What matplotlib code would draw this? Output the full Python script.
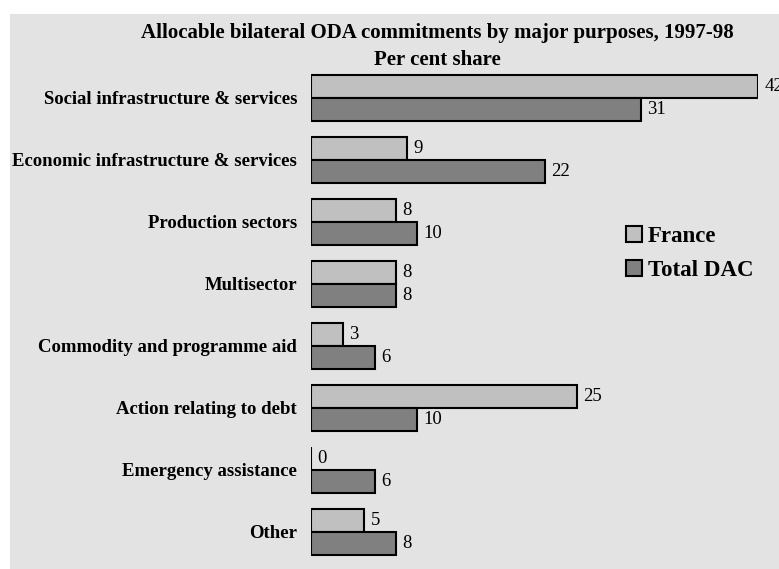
import numpy as np
import matplotlib.pyplot as plt
from matplotlib.patches import Rectangle

categories = ["Social infrastructure & services", "Economic infrastructure & services",
              "Production sectors", "Multisector", "Commodity and programme aid",
              "Action relating to debt", "Emergency assistance", "Other"]
france = [42, 9, 8, 8, 3, 25, 0, 5]
total_dac = [31, 22, 10, 8, 6, 10, 6, 8]

W, H = 779, 569
serif = ["Liberation Serif", "DejaVu Serif"]

fig = plt.figure(figsize=(W / 100, H / 100), dpi=100, facecolor="white")
fig.patches.append(Rectangle((10 / W, 0), 1, 1 - 14 / H, transform=fig.transFigure,
                             facecolor="#e3e3e3", edgecolor="none", zorder=-5))

ax = fig.add_axes([311 / W, 1 - 563 / H, (758 - 311) / W, (563 - 67) / H])
ax.set_facecolor("none")

y = np.arange(len(categories))
h = 0.37
b1 = ax.barh(y - h / 2, france, height=h, color="#c0c0c0", edgecolor="black", linewidth=1.5,
             label="France")
b2 = ax.barh(y + h / 2, total_dac, height=h, color="#808080", edgecolor="black", linewidth=1.5,
             label="Total DAC")

for bars, vals in ((b1, france), (b2, total_dac)):
    for bar, v in zip(bars, vals):
        ax.text(v + 0.6, bar.get_y() + bar.get_height() / 2, str(v), va="center", ha="left",
                fontsize=13.5, family=serif, clip_on=False)

ax.set_xlim(0, 42)
ax.set_ylim(len(categories) - 0.5, -0.5)
ax.set_yticks(y)
ax.set_yticklabels(categories, family=serif, fontweight="bold", fontsize=13.5)
ax.tick_params(axis="y", length=0, pad=10)
ax.set_xticks([])
for s in ax.spines.values():
    s.set_visible(False)

fig.text(437 / W, 1 - 33 / H, "Allocable bilateral ODA commitments by major purposes, 1997-98",
         ha="center", va="center", fontsize=15, fontweight="bold", family=serif)
fig.text(437 / W, 1 - 60 / H, "Per cent share", ha="center", va="center",
         fontsize=15, fontweight="bold", family=serif)

fig.legend(handles=[b1, b2], loc="upper left", bbox_to_anchor=(626 / W, 1 - 226 / H),
           frameon=False, prop={"family": serif, "weight": "bold", "size": 16.5},
           handlelength=0.7, handleheight=0.7, handletextpad=0.25, labelspacing=0.55,
           borderpad=0, borderaxespad=0)

fig.savefig("out.png", dpi=100, facecolor="white")
